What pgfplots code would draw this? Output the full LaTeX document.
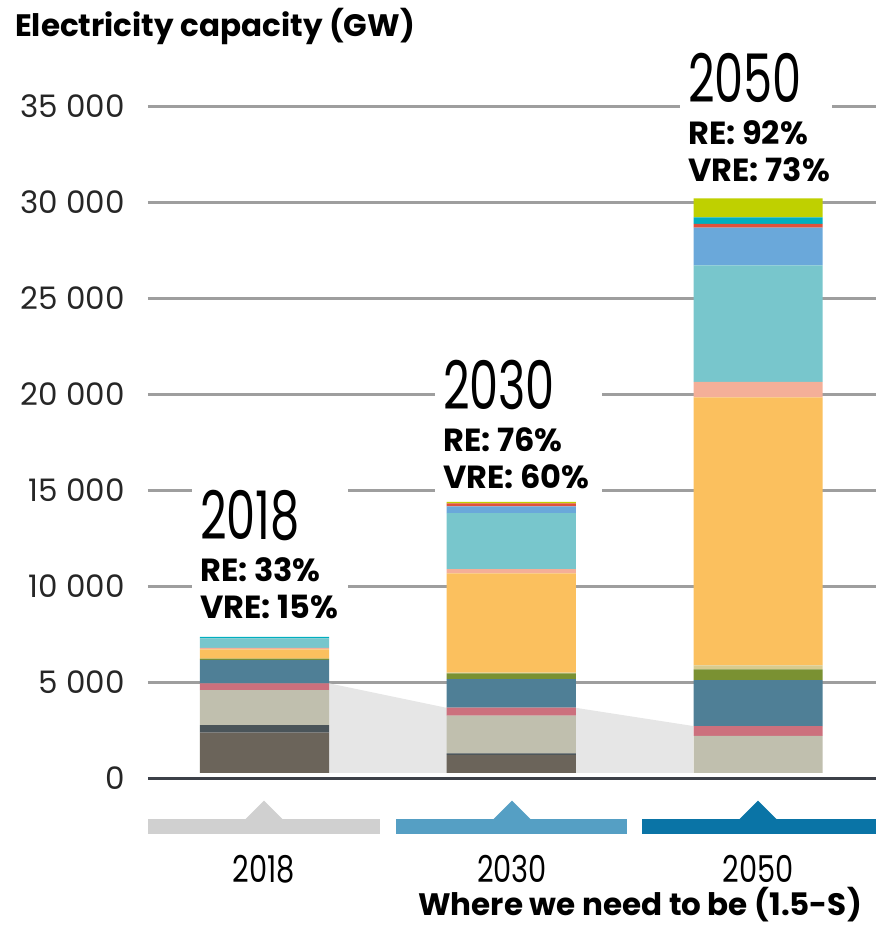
\documentclass[border=0pt]{standalone}
\usepackage{pgfplots}
\usepackage{pgfplotstable}
\pgfplotsset{compat=1.18}
\usepackage{fontspec}
\setmainfont{Poppins}

\definecolor{cCoal}{HTML}{6B645A}
\definecolor{cOil}{HTML}{4A5459}
\definecolor{cGas}{HTML}{C0BFAE}
\definecolor{cNuc}{HTML}{CC707D}
\definecolor{cHydro}{HTML}{4F7F96}
\definecolor{cBio}{HTML}{7A9132}
\definecolor{cGeo}{HTML}{D8CB8E}
\definecolor{cSolar}{HTML}{FBC05E}
\definecolor{cCsp}{HTML}{F4AF98}
\definecolor{cOn}{HTML}{78C6CC}
\definecolor{cOff}{HTML}{6AA8DA}
\definecolor{cMar}{HTML}{E0503C}
\definecolor{cOth}{HTML}{00AEBF}
\definecolor{cBat}{HTML}{BFD000}
\definecolor{cPoly}{HTML}{E6E6E6}
\definecolor{cGrid}{HTML}{9E9E9E}
\definecolor{cAxis}{HTML}{3C4048}
\definecolor{cB1}{HTML}{D0D0D0}
\definecolor{cB2}{HTML}{559FC4}
\definecolor{cB3}{HTML}{0A74A6}

\pgfplotstableread{
x coal oil gas nuc hydro bio geo solar csp on off mar oth bat
0 2385 401 1823 349 1214 68 0 489 68 505 0 0 68 0
1 1224 89 1958 417 1494 297 31 5178 223 2917 349 156 0 68
2 0 0 2214 520 2396 558 208 13958 797 6078 1959 192 349 990
}\capdata

\pgfplotsset{common/.style={
  scale only axis, width=728pt, height=672pt,
  xmin=-0.472, xmax=2.478, ymin=0, ymax=35000,
  at={(0pt,0pt)}, anchor=south west}}

\begin{document}
\begin{tikzpicture}[x=1pt,y=1pt]
\path (-148,-147.5) rectangle (728,778.5);
\begin{axis}[common,
  axis line style={draw=none},
  xtick=\empty,
  ytick={0,5000,...,35000},
  scaled y ticks=false,
  ymajorgrids,
  major grid style={draw=cGrid, line width=2.6pt},
  major tick length=0pt,
  /pgf/number format/fixed,
  /pgf/number format/precision=0,
  /pgf/number format/1000 sep={\ },
  /pgf/number format/assume math mode=true,
  yticklabel style={anchor=east, inner sep=0pt, xshift=-23pt,
    font=\fontsize{31}{31}\selectfont, text=black!85},
  clip=false]
\addplot[fill=cPoly, draw=none] coordinates {(0.2615,0) (0.2615,4958) (0.7356,3688) (1.258,3688) (1.737,2734) (1.737,0)};
\end{axis}
\begin{axis}[common, hide axis, ybar stacked, bar width=0.523]
\addplot[fill=cCoal, draw=none] table[x=x,y=coal]{\capdata};
\addplot[fill=cOil, draw=none] table[x=x,y=oil]{\capdata};
\addplot[fill=cGas, draw=none] table[x=x,y=gas]{\capdata};
\addplot[fill=cNuc, draw=none] table[x=x,y=nuc]{\capdata};
\addplot[fill=cHydro, draw=none] table[x=x,y=hydro]{\capdata};
\addplot[fill=cBio, draw=none] table[x=x,y=bio]{\capdata};
\addplot[fill=cGeo, draw=none] table[x=x,y=geo]{\capdata};
\addplot[fill=cSolar, draw=none] table[x=x,y=solar]{\capdata};
\addplot[fill=cCsp, draw=none] table[x=x,y=csp]{\capdata};
\addplot[fill=cOn, draw=none] table[x=x,y=on]{\capdata};
\addplot[fill=cOff, draw=none] table[x=x,y=off]{\capdata};
\addplot[fill=cMar, draw=none] table[x=x,y=mar]{\capdata};
\addplot[fill=cOth, draw=none] table[x=x,y=oth]{\capdata};
\addplot[fill=cBat, draw=none] table[x=x,y=bat]{\capdata};
\end{axis}
% axis line at bottom
\fill[white] (0,2) rectangle (728,5.2);
\fill[cAxis] (0,-1.5) rectangle (728,1.9);
% title
\node[anchor=base west, inner sep=0pt, font=\bfseries\fontsize{31}{31}\selectfont] at (-133,741.5) {Electricity capacity (GW)};
% white boxes behind annotations
\fill[white] (44,150.5) rectangle (200,293.5);
\fill[white] (287,284.5) rectangle (454,423.5);
\fill[white] (532,588.5) rectangle (684,726.5);
% annotations
\tikzset{yr/.style={anchor=base west, inner sep=0pt, xscale=0.69, font=\fontsize{67}{67}\selectfont},
  re/.style={anchor=base west, inner sep=0pt, font=\bfseries\fontsize{32}{32}\selectfont}}
\node[yr] at (52,238.5) {2018};
\node[re] at (52,196.5) {RE: 33\%};
\node[re] at (52,159.5) {VRE: 15\%};
\node[yr] at (295,368.5) {2030};
\node[re] at (295,326.5) {RE: 76\%};
\node[re] at (295,289.5) {VRE: 60\%};
\node[yr] at (540,675.5) {2050};
\node[re] at (540,633.5) {RE: 92\%};
\node[re] at (540,596.5) {VRE: 73\%};
% bottom scenario markers
\fill[cB1] (0,-40.5) rectangle (232,-55.5);
\fill[cB1] (97,-41) -- (116,-22.2) -- (135,-41) -- cycle;
\fill[cB2] (248,-40.5) rectangle (479,-55.5);
\fill[cB2] (345,-41) -- (364,-22.2) -- (383,-41) -- cycle;
\fill[cB3] (494,-40.5) rectangle (728,-55.5);
\fill[cB3] (591,-41) -- (610,-22.2) -- (629,-41) -- cycle;
\tikzset{yl/.style={anchor=base, inner sep=0pt, xscale=0.78, font=\fontsize{37}{37}\selectfont}}
\node[yl] at (116,-103.5) {2018};
\node[yl] at (364,-103.5) {2030};
\node[yl] at (610,-103.5) {2050};
\node[anchor=base east, inner sep=0pt, font=\bfseries\fontsize{31}{31}\selectfont] at (714,-137) {Where we need to be (1.5-S)};
\end{tikzpicture}
\end{document}
